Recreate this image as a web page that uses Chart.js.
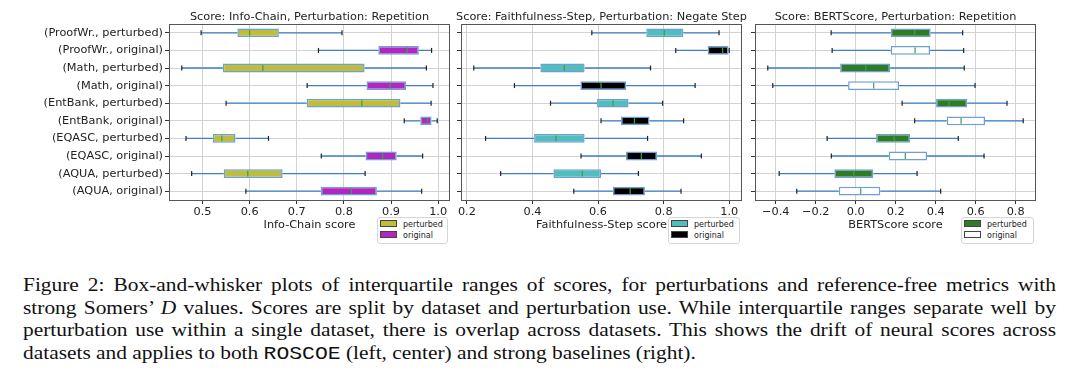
<!DOCTYPE html>
<html><head><meta charset="utf-8">
<script src="https://cdn.jsdelivr.net/npm/chart.js@4.4.0/dist/chart.umd.min.js"></script>
<style>
html,body{margin:0;padding:0;background:#fff;}
.wrap{position:relative;width:1080px;height:387px;overflow:hidden;background:#fff;}
canvas{position:absolute;top:0;}
.ttl{position:absolute;top:9.6px;width:400px;text-align:center;white-space:nowrap;font-family:"DejaVu Sans";font-size:11.3px;line-height:13px;color:#222;}
.legend{position:absolute;top:217px;height:25px;border:1px solid #d6d6d6;border-radius:3px;background:#fff;font-family:"DejaVu Sans";font-size:8px;color:#222;}
.legend .it{position:absolute;left:2px;height:10px;line-height:10px;white-space:nowrap;}
.legend .sw{display:inline-block;width:15px;height:5px;border:1px solid #444;vertical-align:middle;margin-right:6px;position:relative;top:-1px;}
.cap{position:absolute;left:23px;top:273.7px;width:1033px;font-family:"Liberation Serif","Times New Roman",serif;font-size:21.4px;line-height:25.9px;color:#111;transform:scaleY(0.88);transform-origin:0 0;}
.cap div{white-space:nowrap;}
.mono{font-family:"Liberation Mono","DejaVu Sans Mono",monospace;font-size:1em;}
</style></head>
<body><div class="wrap">
<canvas id="c1" width="455" height="250" style="left:0px;width:455px;height:250px"></canvas>
<canvas id="c2" width="292" height="250" style="left:455px;width:292px;height:250px"></canvas>
<canvas id="c3" width="292" height="250" style="left:749px;width:292px;height:250px"></canvas>
<div class="ttl" id="t1" style="left:109.5px"></div>
<div class="ttl" id="t2" style="left:401.5px"></div>
<div class="ttl" id="t3" style="left:695.5px"></div>
<div class="legend" style="left:377px;width:69px"><div class="it" style="top:2px"><span class="sw" style="background:#bebe3c"></span>perturbed</div><div class="it" style="top:13px"><span class="sw" style="background:#b325bf"></span>original</div></div>
<div class="legend" style="left:668px;width:70px"><div class="it" style="top:2px"><span class="sw" style="background:#52bdbd"></span>perturbed</div><div class="it" style="top:13px"><span class="sw" style="background:#000"></span>original</div></div>
<div class="legend" style="left:961px;width:71px"><div class="it" style="top:2px"><span class="sw" style="background:#2e7d22"></span>perturbed</div><div class="it" style="top:13px"><span class="sw" style="background:#fff"></span>original</div></div>
<div class="cap" id="cap">
<div class="j"><span>Figure 2: Box-and-whisker plots of interquartile ranges of scores, for perturbations and reference-free metrics with</span></div>
<div class="j"><span>strong Somers’ <i>D</i> values. Scores are split by dataset and perturbation use. While interquartile ranges separate well by</span></div>
<div class="j"><span>perturbation use within a single dataset, there is overlap across datasets. This shows the drift of neural scores across</span></div>
<div><span>datasets and applies to both <span class="mono">ROSCOE</span> (left, center) and strong baselines (right).</span></div>
</div>
</div>
<script>
const categories = ['(ProofWr., perturbed)','(ProofWr., original)','(Math, perturbed)','(Math, original)','(EntBank, perturbed)','(EntBank, original)','(EQASC, perturbed)','(EQASC, original)','(AQUA, perturbed)','(AQUA, original)'];

// Panel 1: Info-Chain, Repetition
const infoLow  = [0.497, 0.746, 0.456, 0.722, 0.550, 0.928, 0.465, 0.752, 0.477, 0.592];
const infoQ1   = [0.574, 0.873, 0.543, 0.848, 0.721, 0.962, 0.522, 0.846, 0.545, 0.751];
const infoMed  = [0.600, 0.934, 0.628, 0.898, 0.838, 0.977, 0.541, 0.882, 0.596, 0.816];
const infoQ3   = [0.662, 0.959, 0.844, 0.932, 0.920, 0.986, 0.570, 0.912, 0.670, 0.870];
const infoHigh = [0.796, 0.986, 0.975, 0.989, 0.985, 0.998, 0.640, 0.967, 0.845, 0.965];

// Panel 2: Faithfulness-Step, Negate Step
const faithLow  = [0.581, 0.837, 0.221, 0.345, 0.455, 0.609, 0.257, 0.548, 0.303, 0.526];
const faithQ1   = [0.747, 0.934, 0.424, 0.546, 0.597, 0.670, 0.405, 0.685, 0.464, 0.645];
const faithMed  = [0.802, 0.980, 0.497, 0.609, 0.646, 0.711, 0.472, 0.732, 0.552, 0.698];
const faithQ3   = [0.860, 0.998, 0.559, 0.686, 0.693, 0.757, 0.559, 0.780, 0.609, 0.743];
const faithHigh = [0.969, 1.000, 0.760, 0.896, 0.797, 0.861, 0.751, 0.915, 0.723, 0.853];

// Panel 3: BERTScore, Repetition
const bertLow  = [-0.123, -0.118, -0.440, -0.415, 0.232, 0.295, -0.143, -0.122, -0.383, -0.295];
const bertQ1   = [0.175, 0.175, -0.078, -0.038, 0.402, 0.455, 0.102, 0.165, -0.107, -0.085];
const bertMed  = [0.295, 0.297, 0.050, 0.090, 0.467, 0.527, 0.192, 0.248, -0.010, 0.025];
const bertQ3   = [0.375, 0.372, 0.172, 0.217, 0.558, 0.647, 0.272, 0.357, 0.088, 0.123];
const bertHigh = [0.535, 0.540, 0.543, 0.597, 0.757, 0.838, 0.513, 0.642, 0.307, 0.425];

const titles = ['Score: Info-Chain, Perturbation: Repetition','Score: Faithfulness-Step, Perturbation: Negate Step','Score: BERTScore, Perturbation: Repetition'];
const xTitles = ['Info-Chain score','Faithfulness-Step score','BERTScore score'];
const xSteps = [0.1, 0.2, 0.2];

titles.forEach((t,i)=>{ document.getElementById('t'+(i+1)).textContent = t; });

// justify caption lines (word spacing) to the block width
(function(){
  const W = 1033;
  document.querySelectorAll('#cap .j').forEach(el=>{
    const span = el.firstElementChild;
    const w = span.getBoundingClientRect().width;
    const n = (span.textContent.match(/ /g)||[]).length;
    if(n) span.style.wordSpacing = ((W - w)/n) + 'px';
  });
})();

Chart.defaults.font.family = 'DejaVu Sans';
Chart.defaults.color = '#222';

const GRID = '#d3d3d3';
const FS = 11.3;
const fmt = v => { const s = Math.abs(v) < 1e-9 ? '0.0' : v.toFixed(1); return s.replace('-', '\u2212'); };

function boxPlugin(low, med, high){
  return {
    id:'boxparts',
    beforeDatasetsDraw(chart){
      const {ctx, scales:{x,y}} = chart;
      const meta = chart.getDatasetMeta(0);
      ctx.save();
      ctx.strokeStyle = '#3f7fc3'; ctx.lineWidth = 1.3;
      low.forEach((v,i)=>{
        const py = y.getPixelForValue(i);
        const bar = meta.data[i];
        const l = Math.min(bar.x, bar.base), r = Math.max(bar.x, bar.base);
        ctx.beginPath();
        ctx.moveTo(x.getPixelForValue(v), py); ctx.lineTo(l, py);
        ctx.moveTo(r, py); ctx.lineTo(x.getPixelForValue(high[i]), py);
        ctx.stroke();
      });
      ctx.restore();
    },
    afterDatasetsDraw(chart){
      const {ctx, scales:{x,y}} = chart;
      const meta = chart.getDatasetMeta(0);
      ctx.save();
      low.forEach((v,i)=>{
        const py = y.getPixelForValue(i);
        const h = meta.data[i].height/2;
        ctx.strokeStyle = '#222'; ctx.lineWidth = 1.2;
        [v, high[i]].forEach(w=>{
          const px = x.getPixelForValue(w);
          ctx.beginPath(); ctx.moveTo(px, py - 2.5); ctx.lineTo(px, py + 2.5); ctx.stroke();
        });
        ctx.strokeStyle = '#3aa43a'; ctx.lineWidth = 1.2;
        const mx = x.getPixelForValue(med[i]);
        ctx.beginPath(); ctx.moveTo(mx, py - h + 1.5); ctx.lineTo(mx, py + h - 1.5); ctx.stroke();
      });
      ctx.restore();
    },
    afterDraw(chart){
      const {ctx, chartArea:a} = chart;
      ctx.save(); ctx.strokeStyle = '#555'; ctx.lineWidth = 1;
      ctx.strokeRect(Math.round(a.left)+0.5, Math.round(a.top)+0.5, Math.round(a.right-a.left)-1, Math.round(a.bottom-a.top));
      ctx.restore();
    }
  };
}

function makePanel(id, k, low, q1, med, q3, high, pertColor, origColor, yWidth, showLabels){
  const all = low.concat(high);
  const lo = Math.min(...all), hi = Math.max(...all), pad = (hi - lo) * 0.05;
  new Chart(document.getElementById(id), {
    type:'bar',
    data:{labels:categories, datasets:[{
      data: q1.map((v,i)=>[v, q3[i]]),
      backgroundColor: categories.map(c => c.includes('perturbed') ? pertColor : origColor),
      borderColor:'#6f9fd3', borderWidth:1.5, borderSkipped:false,
      barPercentage:0.5, categoryPercentage:1
    }]},
    options:{
      indexAxis:'y', responsive:false, animation:false, devicePixelRatio:1,
      layout:{padding:{left:0,right:5,top:24,bottom:0}},
      plugins:{legend:{display:false}, tooltip:{enabled:false}, title:{display:false}},
      scales:{
        x:{type:'linear', min:lo-pad, max:hi+pad,
          afterFit:s=>{s.height=50;},
          border:{display:false},
          grid:{color:GRID, lineWidth:1, tickLength:4, tickColor:'#333', drawTicks:true},
          ticks:{stepSize:xSteps[k], includeBounds:false, callback:fmt, font:{size:FS}, color:'#222', padding:1, maxRotation:0, autoSkip:false},
          title:{display:true, text:xTitles[k], color:'#222', font:{size:FS}, padding:{top:0,bottom:18.2}}},
        y:{type:'category', offset:true,
          afterFit:s=>{s.width=yWidth;},
          border:{display:false},
          grid:{offset:false, color:GRID, lineWidth:1, tickLength:4, tickColor:'#333'},
          ticks:{callback:(v,i)=> showLabels ? categories[i] : '', font:{size:FS}, color:'#222', padding:2}}
      }
    },
    plugins:[boxPlugin(low, med, high)]
  });
}

makePanel('c1', 0, infoLow, infoQ1, infoMed, infoQ3, infoHigh, '#bebe3c', '#b325bf', 169, true);
makePanel('c2', 1, faithLow, faithQ1, faithMed, faithQ3, faithHigh, '#52bdbd', '#000000', 6, false);
makePanel('c3', 2, bertLow, bertQ1, bertMed, bertQ3, bertHigh, '#2e7d22', '#ffffff', 6, false);
</script>
</body></html>
